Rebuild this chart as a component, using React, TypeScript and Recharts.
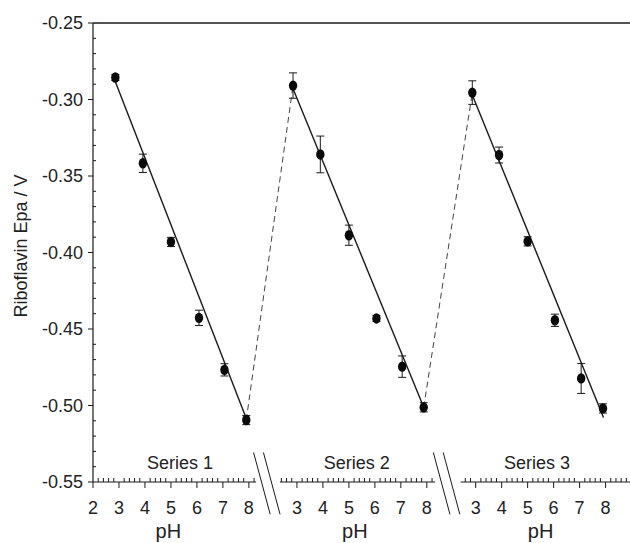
import React from "react";
import {
  ComposedChart,
  XAxis,
  YAxis,
  Scatter,
  ErrorBar,
  Line,
  ReferenceLine,
  ReferenceDot,
} from "recharts";

const FONT = "'Liberation Sans', Arial, sans-serif";
const INK = "#1a1a1a";

// each pH segment is shifted along one shared numeric axis
const segOffset = [0, 6.85, 13.73];
const segNames = ["Series 1", "Series 2", "Series 3"];
const segNameAt = [5.35, 5.3, 5.36];
const phLabelAt = [4.9, 5.23, 5.5];
const segAxisRange = [
  [2, 8.28],
  [2.35, 8.32],
  [2.42, 8.94],
];
const majorPh = [
  [2, 3, 4, 5, 6, 7, 8],
  [3, 4, 5, 6, 7, 8],
  [3, 4, 5, 6, 7, 8],
];
const yMajor = [-0.55, -0.5, -0.45, -0.4, -0.35, -0.3, -0.25];

const ph1 = [2.86, 3.92, 5.0, 6.08, 7.06, 7.9];
const epa1 = [-0.2856, -0.3417, -0.3931, -0.4427, -0.4767, -0.5095];
const err1 = [0.002, 0.006, 0.003, 0.005, 0.004, 0.003];

const ph2 = [2.85, 3.9, 5.0, 6.06, 7.05, 7.88];
const epa2 = [-0.2909, -0.3359, -0.3887, -0.4431, -0.4746, -0.5012];
const err2 = [0.0083, 0.012, 0.0066, 0.002, 0.007, 0.003];

const ph3 = [2.87, 3.9, 5.0, 6.05, 7.06, 7.9];
const epa3 = [-0.2955, -0.3363, -0.3927, -0.4443, -0.4823, -0.5019];
const err3 = [0.0077, 0.0052, 0.003, 0.004, 0.0098, 0.003];

// linear fits, start and end of each line
const fitPh = [
  [2.83, 7.92],
  [2.85, 7.88],
  [2.87, 7.92],
];
const fitEpa = [
  [-0.2871, -0.5093],
  [-0.293, -0.5012],
  [-0.297, -0.5078],
];

// axis break marks (left edge of each "//")
const breakAt = [8.18, 15.1];

const allPh = [ph1, ph2, ph3];
const allEpa = [epa1, epa2, epa3];
const allErr = [err1, err2, err3];

const points = allPh.map((ph, s) =>
  ph.map((p, i) => ({ pos: segOffset[s] + p, epa: allEpa[s][i], err: allErr[s][i] }))
);
const fits = fitPh.map((ph, s) =>
  ph.map((p, i) => ({ pos: segOffset[s] + p, epa: fitEpa[s][i] }))
);
const links = [0, 1].map((s) => [points[s][points[s].length - 1], points[s + 1][0]]);

const key = (v: number) => v.toFixed(3);
const xTickInfo = new Map<string, { major: boolean; label: string }>();
const xTicks: number[] = [];
segAxisRange.forEach(([a, b], s) => {
  for (let k = Math.ceil(a * 5 - 1e-6); k <= Math.floor(b * 5 + 1e-6); k++) {
    const p = k / 5;
    const major = majorPh[s].includes(p);
    if (!major && Number.isInteger(p)) continue;
    const pos = segOffset[s] + p;
    xTicks.push(pos);
    xTickInfo.set(key(pos), { major, label: String(p) });
  }
});

const yTicks: number[] = [];
for (let k = -55; k <= -25; k++) yTicks.push(k / 100);

const XTick = (props: any) => {
  const { x, y, payload } = props;
  const info = xTickInfo.get(key(payload.value));
  if (!info) return <g />;
  if (info.major)
    return (
      <g>
        <line x1={x} x2={x} y1={y} y2={y + 6} stroke={INK} />
        <text x={x} y={y + 32} textAnchor="middle" fontSize={18} fill="#222" fontFamily={FONT}>
          {info.label}
        </text>
      </g>
    );
  return <line x1={x} x2={x} y1={y} y2={y - 4} stroke={INK} />;
};

const YTick = (props: any) => {
  const { x, y, payload } = props;
  const v = payload.value as number;
  const major = yMajor.some((m) => Math.abs(m - v) < 1e-6);
  if (major)
    return (
      <g>
        <line x1={x - 5} x2={x} y1={y} y2={y} stroke={INK} />
        <text x={x - 10} y={y} dy="0.36em" textAnchor="end" fontSize={18} fill="#222" fontFamily={FONT}>
          {v.toFixed(2)}
        </text>
      </g>
    );
  return <line x1={x} x2={x + 3} y1={y} y2={y} stroke={INK} />;
};

const Dot = (props: any) => <ellipse cx={props.cx} cy={props.cy} rx={4.2} ry={5.2} fill="#0a0a0a" />;

export default function App() {
  return (
    <div style={{ position: "absolute", left: 0, top: 0, background: "#fff" }}>
      <ComposedChart width={630} height={543} margin={{ top: 23, right: 0, bottom: 0, left: 0 }}>
        <XAxis
          type="number"
          dataKey="pos"
          domain={[2, 22.67]}
          allowDataOverflow
          ticks={xTicks}
          interval={0}
          tick={(p: any) => <XTick {...p} />}
          tickLine={false}
          axisLine={false}
          height={61}
          tickSize={0}
          tickMargin={0}
        />
        <YAxis
          type="number"
          dataKey="epa"
          domain={[-0.55, -0.25]}
          allowDataOverflow
          ticks={yTicks}
          interval={0}
          tick={(p: any) => <YTick {...p} />}
          tickLine={false}
          axisLine={{ stroke: INK, strokeWidth: 1.2 }}
          width={93}
          tickSize={0}
          tickMargin={0}
        />
        <ReferenceLine y={-0.25} stroke={INK} strokeWidth={1.3} />
        {segAxisRange.map(([a, b], s) => (
          <ReferenceLine
            key={"ax" + s}
            segment={[
              { x: segOffset[s] + a, y: -0.55 },
              { x: segOffset[s] + b, y: -0.55 },
            ]}
            stroke={INK}
            strokeWidth={1.2}
            ifOverflow="visible"
          />
        ))}
        {breakAt.flatMap((b, i) =>
          [0, 0.38].map((d) => (
            <ReferenceLine
              key={"br" + i + d}
              segment={[
                { x: b + d, y: -0.5307 },
                { x: b + d + 0.64, y: -0.5711 },
              ]}
              stroke={INK}
              ifOverflow="visible"
            />
          ))
        )}
        {links.map((d, i) => (
          <Line
            key={"ln" + i}
            data={d}
            dataKey="epa"
            type="linear"
            stroke="#444"
            strokeWidth={1}
            strokeDasharray="6 4"
            dot={false}
            isAnimationActive={false}
          />
        ))}
        {fits.map((d, i) => (
          <Line
            key={"fit" + i}
            data={d}
            dataKey="epa"
            type="linear"
            stroke={INK}
            strokeWidth={1.4}
            dot={false}
            isAnimationActive={false}
          />
        ))}
        {points.map((d, i) => (
          <Scatter key={"pt" + i} data={d} dataKey="epa" shape={Dot} isAnimationActive={false}>
            <ErrorBar dataKey="err" direction="y" width={4} stroke={INK} strokeWidth={1} />
          </Scatter>
        ))}
        {segNames.map((n, s) => (
          <ReferenceDot
            key={"nm" + s}
            x={segOffset[s] + segNameAt[s]}
            y={-0.537}
            r={0}
            fill="none"
            stroke="none"
            ifOverflow="visible"
            label={{ value: n, position: "center", fontSize: 18, fill: "#222", fontFamily: FONT }}
          />
        ))}
        {phLabelAt.map((p, s) => (
          <ReferenceDot
            key={"ph" + s}
            x={segOffset[s] + p}
            y={-0.582}
            r={0}
            fill="none"
            stroke="none"
            ifOverflow="visible"
            label={{ value: "pH", position: "center", fontSize: 20, fill: "#222", fontFamily: FONT }}
          />
        ))}
      </ComposedChart>
      <svg
        width={40}
        height={543}
        style={{ position: "absolute", left: 0, top: 0, pointerEvents: "none" }}
      >
        <text
          transform="translate(27,246) rotate(-90)"
          textAnchor="middle"
          fontSize={18}
          fill="#222"
          fontFamily={FONT}
        >
          Riboflavin Epa / V
        </text>
      </svg>
    </div>
  );
}
